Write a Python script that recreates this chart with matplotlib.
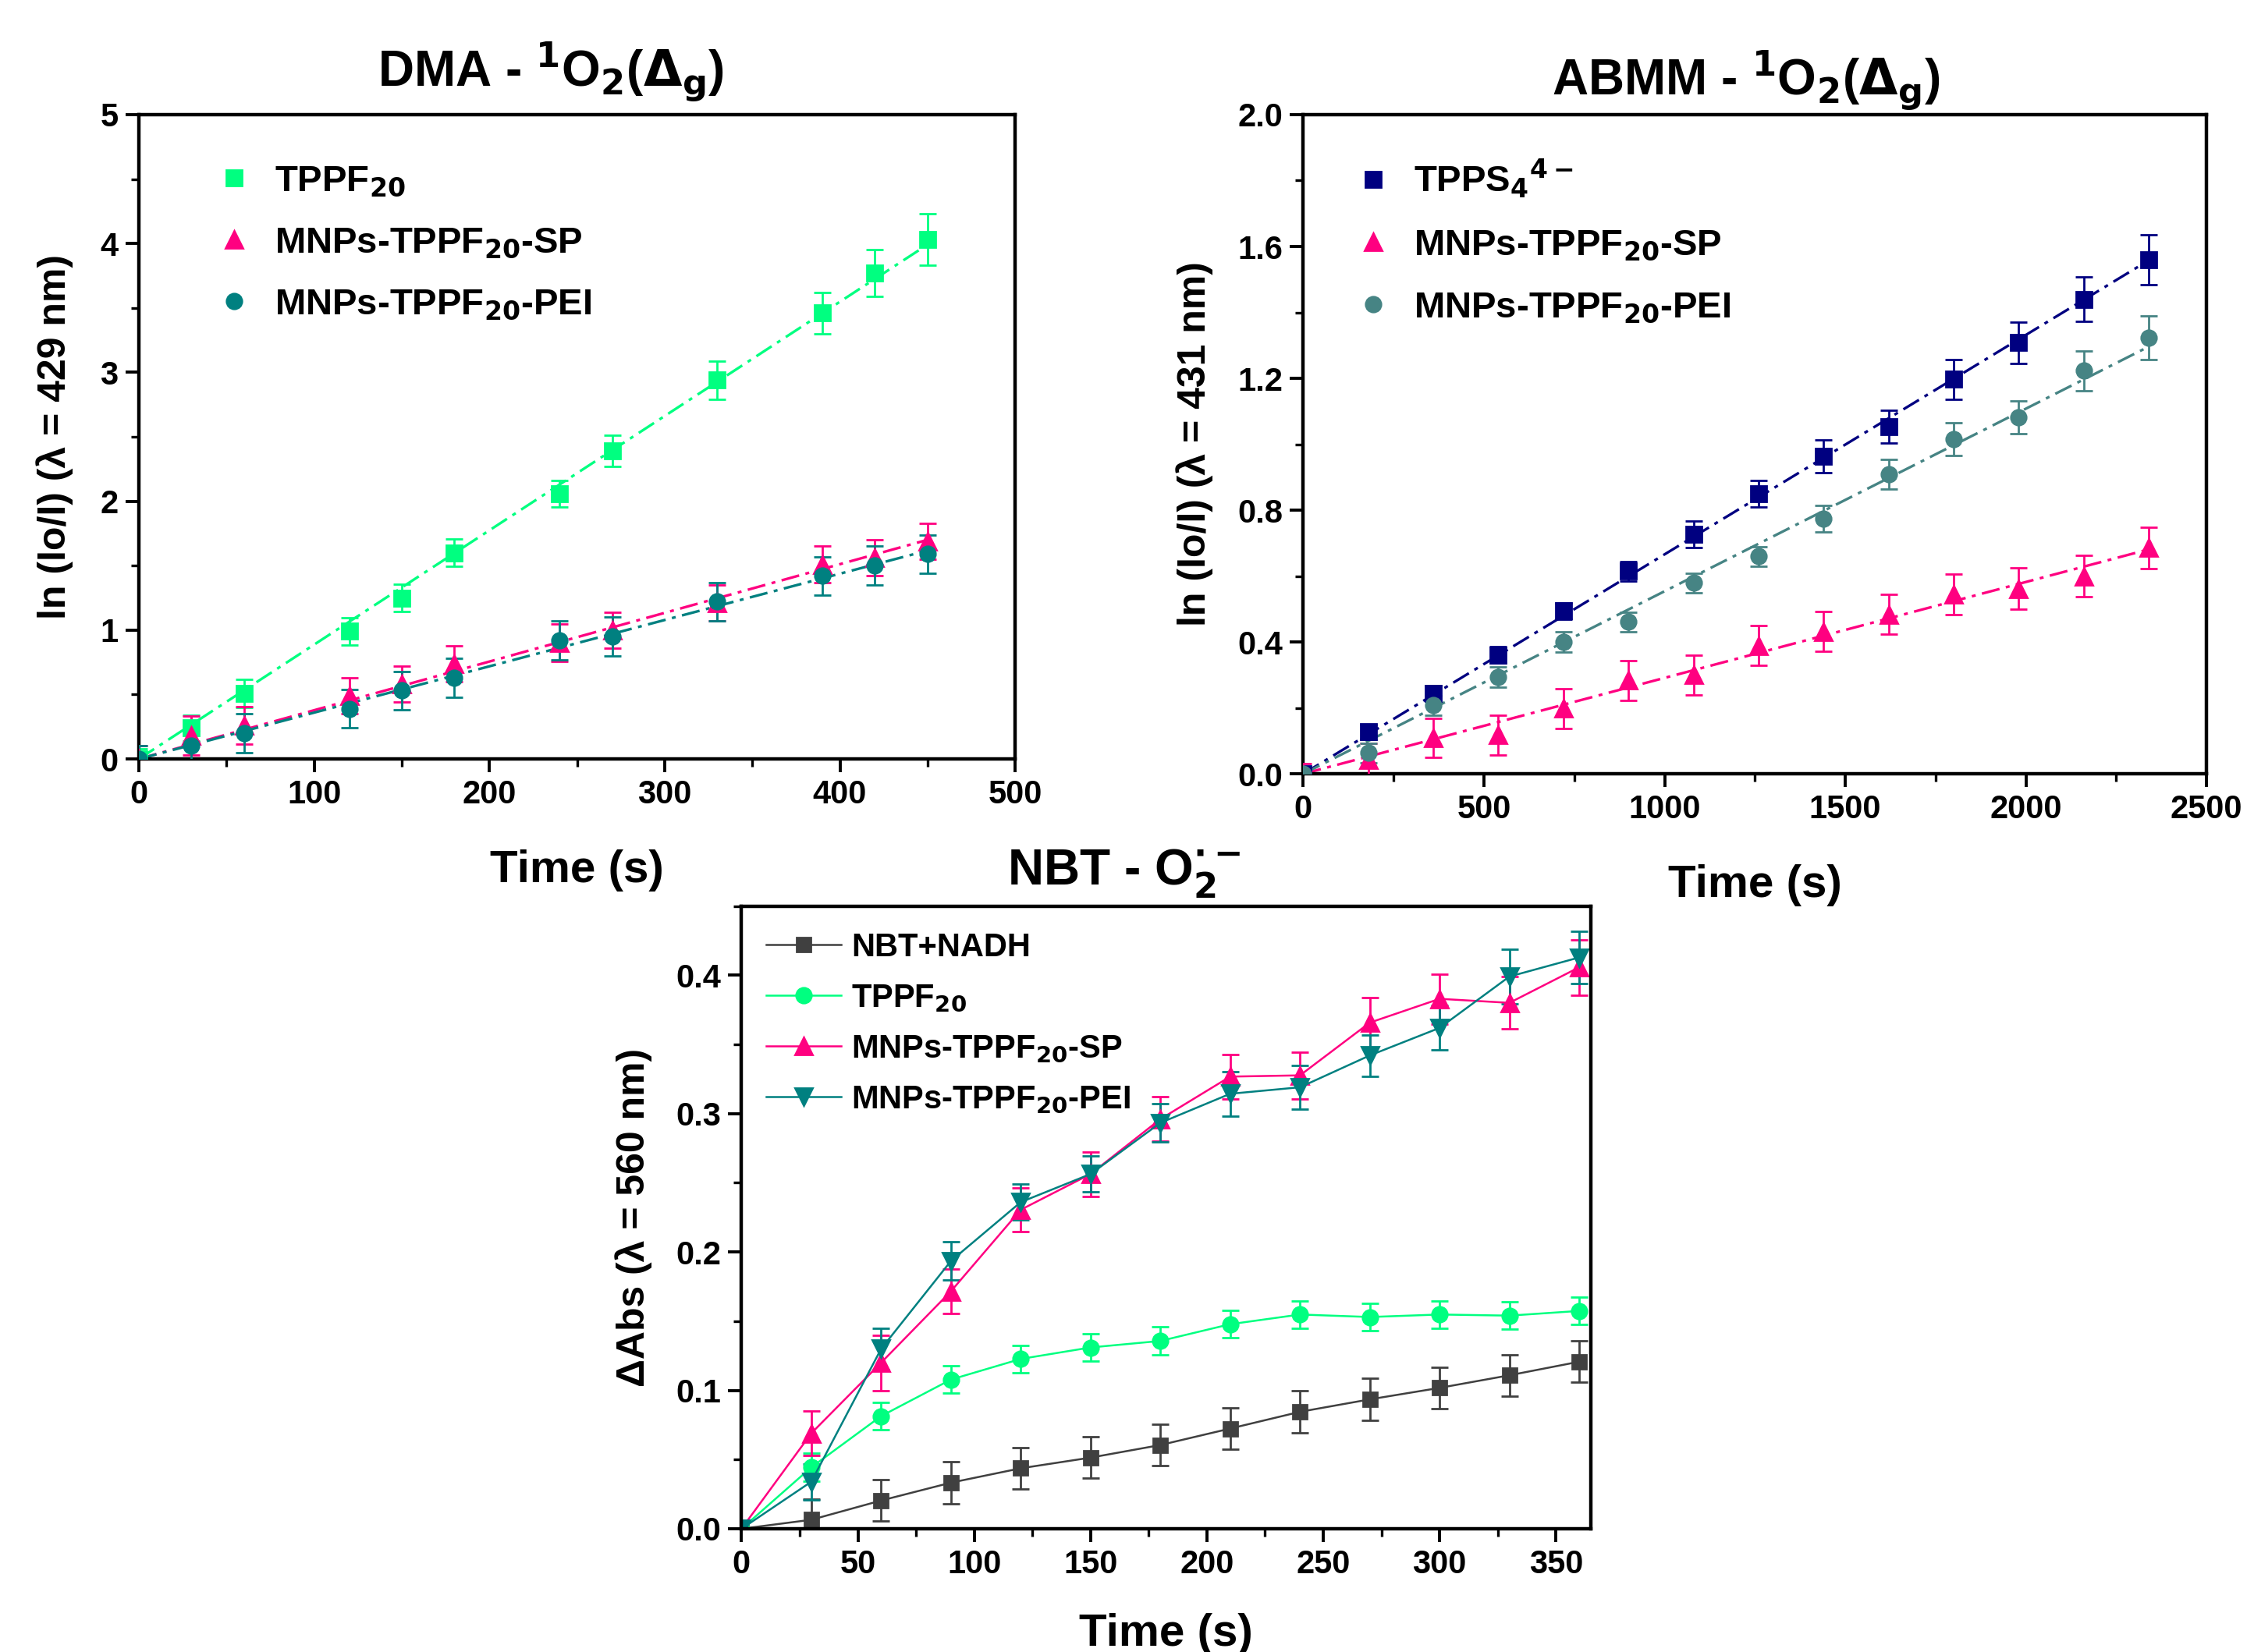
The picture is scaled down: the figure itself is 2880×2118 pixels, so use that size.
import numpy as np
import matplotlib
matplotlib.use("Agg")
import matplotlib.pyplot as plt
from matplotlib.lines import Line2D
from matplotlib.ticker import MultipleLocator, FormatStrFormatter

plt.rcParams['font.family'] = ['Liberation Sans Narrow', 'Liberation Sans', 'DejaVu Sans']
plt.rcParams['font.weight'] = 'bold'
plt.rcParams['mathtext.fontset'] = 'custom'
plt.rcParams['mathtext.rm'] = 'Liberation Sans Narrow:bold'
plt.rcParams['mathtext.it'] = 'Liberation Sans Narrow:bold'
plt.rcParams['mathtext.bf'] = 'Liberation Sans Narrow:bold'
plt.rcParams['mathtext.sf'] = 'Liberation Sans Narrow:bold'

# ---- DMA panel (top left) ----
dma_t = [0, 30, 60, 120, 150, 180, 240, 270, 330, 390, 420, 450]
dma_tppf = [0, 0.24, 0.51, 0.99, 1.25, 1.60, 2.06, 2.39, 2.94, 3.46, 3.77, 4.03]
dma_tppf_err = [0.08, 0.10, 0.11, 0.105, 0.105, 0.107, 0.104, 0.12, 0.15, 0.16, 0.18, 0.20]
dma_sp = [0, 0.18, 0.26, 0.49, 0.58, 0.74, 0.90, 1.00, 1.21, 1.51, 1.56, 1.69]
dma_sp_err = [0.1, 0.15, 0.145, 0.14, 0.14, 0.14, 0.145, 0.14, 0.14, 0.14, 0.14, 0.14]
dma_pei = [0, 0.10, 0.20, 0.39, 0.53, 0.63, 0.92, 0.95, 1.22, 1.42, 1.50, 1.59]
dma_pei_err = [0.1, 0.12, 0.15, 0.15, 0.15, 0.15, 0.15, 0.15, 0.15, 0.15, 0.15, 0.15]

# ---- ABMM panel (top right) ----
abmm_t = [0, 180, 360, 540, 720, 900, 1080, 1260, 1440, 1620, 1800, 1980, 2160, 2340]
abmm_tpps = [0, 0.127, 0.244, 0.361, 0.494, 0.615, 0.726, 0.850, 0.963, 1.053, 1.197, 1.308, 1.440, 1.560]
abmm_tpps_err = [0.01, 0.023, 0.023, 0.025, 0.025, 0.03, 0.04, 0.04, 0.05, 0.05, 0.06, 0.063, 0.068, 0.075]
abmm_sp = [0, 0.043, 0.110, 0.118, 0.198, 0.283, 0.300, 0.389, 0.432, 0.484, 0.544, 0.562, 0.600, 0.686]
abmm_sp_err = [0.03, 0.05, 0.059, 0.06, 0.06, 0.06, 0.06, 0.06, 0.06, 0.06, 0.062, 0.062, 0.062, 0.063]
abmm_pei = [0, 0.063, 0.208, 0.294, 0.400, 0.461, 0.579, 0.660, 0.775, 0.908, 1.015, 1.081, 1.223, 1.324]
abmm_pei_err = [0.01, 0.03, 0.03, 0.03, 0.03, 0.03, 0.03, 0.03, 0.04, 0.045, 0.05, 0.05, 0.06, 0.066]

# ---- NBT panel (bottom) ----
nbt_t = [0, 30, 60, 90, 120, 150, 180, 210, 240, 270, 300, 330, 360]
nbt_nadh = [0, 0.0065, 0.0204, 0.0333, 0.0437, 0.0514, 0.0605, 0.0724, 0.0845, 0.0935, 0.1018, 0.1109, 0.1207]
nbt_nadh_err = [0, 0.015, 0.015, 0.015, 0.015, 0.015, 0.015, 0.015, 0.015, 0.015, 0.015, 0.015, 0.015]
nbt_tppf = [0, 0.0444, 0.0814, 0.1078, 0.1227, 0.131, 0.1357, 0.1478, 0.1548, 0.153, 0.1548, 0.154, 0.1574]
nbt_tppf_err = [0, 0.01, 0.01, 0.01, 0.01, 0.01, 0.01, 0.01, 0.01, 0.01, 0.01, 0.01, 0.01]
nbt_sp = [0, 0.069, 0.120, 0.1716, 0.2305, 0.2563, 0.296, 0.3267, 0.3276, 0.3657, 0.3829, 0.380, 0.4057]
nbt_sp_err = [0, 0.016, 0.02, 0.016, 0.016, 0.016, 0.016, 0.016, 0.017, 0.018, 0.018, 0.019, 0.02]
nbt_pei = [0, 0.034, 0.130, 0.1935, 0.236, 0.2563, 0.2933, 0.3143, 0.319, 0.342, 0.3619, 0.399, 0.4128]
nbt_pei_err = [0, 0.013, 0.015, 0.014, 0.013, 0.013, 0.014, 0.016, 0.016, 0.015, 0.016, 0.02, 0.019]

GREEN = '#00FF80'
PINK = '#FF0080'
TEAL = '#008080'
NAVY = '#000080'
GREYTEAL = '#468484'
DARK = '#404040'
DASHDOT = (0, (7, 2.5, 1.5, 2.5))

TICK_FS = 15
LABEL_FS = 21
YLABEL_FS = 18
TITLE_FS = 23


def style_axes(ax):
    for sp in ax.spines.values():
        sp.set_linewidth(1.6)
    ax.tick_params(which='major', direction='out', length=6, width=1.4,
                   labelsize=TICK_FS, top=False, right=False)
    ax.tick_params(which='minor', direction='out', length=3.5, width=1.2,
                   top=False, right=False)


def fit_series(ax, x, y, err, color, marker, label, ms=7):
    x = np.asarray(x, float)
    y = np.asarray(y, float)
    ax.errorbar(x, y, yerr=err, fmt=marker, color=color, ms=ms, mec=color,
                ecolor=color, elinewidth=1.0, capsize=4, capthick=1.0, zorder=3)
    # linear fit through the origin
    k = np.sum(x * y) / np.sum(x * x)
    xf = np.array([0, x.max()])
    ax.plot(xf, k * xf, color=color, lw=1.2, ls=DASHDOT, zorder=2)
    return Line2D([], [], ls='none', marker=marker, color=color, ms=ms, label=label)


fig = plt.figure(figsize=(14.4, 10.59), dpi=200)

# ---------------- top left ----------------
ax1 = fig.add_axes([0.0618, 0.5406, 0.390, 0.390])
h1 = [
    fit_series(ax1, dma_t, dma_tppf, dma_tppf_err, GREEN, 's', 'TPPF$_{20}$'),
    fit_series(ax1, dma_t, dma_sp, dma_sp_err, PINK, '^', 'MNPs-TPPF$_{20}$-SP', ms=8),
    fit_series(ax1, dma_t, dma_pei, dma_pei_err, TEAL, 'o', 'MNPs-TPPF$_{20}$-PEI'),
]
ax1.set_xlim(0, 500)
ax1.set_ylim(0, 5)
ax1.xaxis.set_major_locator(MultipleLocator(100))
ax1.xaxis.set_minor_locator(MultipleLocator(50))
ax1.yaxis.set_major_locator(MultipleLocator(1))
ax1.yaxis.set_minor_locator(MultipleLocator(0.5))
style_axes(ax1)
ax1.set_xlabel('Time (s)', fontsize=LABEL_FS, fontweight='bold')
ax1.set_ylabel('ln (Io/I) (λ = 429 nm)', fontsize=YLABEL_FS, fontweight='bold',
               family=['Liberation Sans', 'DejaVu Sans'])
ax1.xaxis.set_label_coords(0.5, -0.14)
ax1.yaxis.set_label_coords(-0.075, 0.5)
ax1.text(0.47, 1.018, r'DMA - $^{1}$O$_{2}$($\Delta_{g}$)', transform=ax1.transAxes,
         ha='center', va='bottom', fontsize=TITLE_FS, fontweight='bold')
ax1.legend(handles=h1, loc='upper left', bbox_to_anchor=(0.05, 0.975), frameon=False,
           fontsize=17, handletextpad=0.6, labelspacing=0.75, handlelength=1.0)

# ---------------- top right ----------------
ax2 = fig.add_axes([0.580, 0.5316, 0.402, 0.399])
h2 = [
    fit_series(ax2, abmm_t, abmm_tpps, abmm_tpps_err, NAVY, 's', 'TPPS$_{4}$$^{4-}$'),
    fit_series(ax2, abmm_t, abmm_sp, abmm_sp_err, PINK, '^', 'MNPs-TPPF$_{20}$-SP', ms=8),
    fit_series(ax2, abmm_t, abmm_pei, abmm_pei_err, GREYTEAL, 'o', 'MNPs-TPPF$_{20}$-PEI'),
]
ax2.set_xlim(0, 2500)
ax2.set_ylim(0, 2.0)
ax2.xaxis.set_major_locator(MultipleLocator(500))
ax2.xaxis.set_minor_locator(MultipleLocator(250))
ax2.yaxis.set_major_locator(MultipleLocator(0.4))
ax2.yaxis.set_minor_locator(MultipleLocator(0.2))
ax2.yaxis.set_major_formatter(FormatStrFormatter('%.1f'))
style_axes(ax2)
ax2.set_xlabel('Time (s)', fontsize=LABEL_FS, fontweight='bold')
ax2.set_ylabel('ln (Io/I) (λ = 431 nm)', fontsize=YLABEL_FS, fontweight='bold',
               family=['Liberation Sans', 'DejaVu Sans'])
ax2.xaxis.set_label_coords(0.5, -0.137)
ax2.yaxis.set_label_coords(-0.10, 0.5)
ax2.text(0.49, 1.005, r'ABMM - $^{1}$O$_{2}$($\Delta_{g}$)', transform=ax2.transAxes,
         ha='center', va='bottom', fontsize=TITLE_FS, fontweight='bold')
ax2.legend(handles=h2, loc='upper left', bbox_to_anchor=(0.02, 0.985), frameon=False,
           fontsize=17, handletextpad=0.6, labelspacing=0.75, handlelength=1.0)

# ---------------- bottom ----------------
ax3 = fig.add_axes([0.330, 0.0746, 0.378, 0.377])
series = [
    (nbt_nadh, nbt_nadh_err, DARK, 's', 'NBT+NADH', 6.5),
    (nbt_tppf, nbt_tppf_err, GREEN, 'o', 'TPPF$_{20}$', 7),
    (nbt_sp, nbt_sp_err, PINK, '^', 'MNPs-TPPF$_{20}$-SP', 8),
    (nbt_pei, nbt_pei_err, TEAL, 'v', 'MNPs-TPPF$_{20}$-PEI', 8),
]
h3 = []
for y, e, c, m, lab, ms in series:
    ax3.errorbar(nbt_t, y, yerr=e, fmt='-' + m, color=c, lw=0.9, ms=ms, mec=c,
                 ecolor=c, elinewidth=1.0, capsize=4, capthick=1.0)
    h3.append(Line2D([], [], ls='-', lw=0.9, marker=m, color=c, ms=ms, label=lab))
ax3.set_xlim(0, 365)
ax3.set_ylim(0, 0.45)
ax3.xaxis.set_major_locator(MultipleLocator(50))
ax3.xaxis.set_minor_locator(MultipleLocator(25))
ax3.yaxis.set_major_locator(MultipleLocator(0.1))
ax3.yaxis.set_minor_locator(MultipleLocator(0.05))
ax3.yaxis.set_major_formatter(FormatStrFormatter('%.1f'))
style_axes(ax3)
ax3.set_xlabel('Time (s)', fontsize=LABEL_FS, fontweight='bold')
ax3.set_ylabel('ΔAbs (λ = 560 nm)', fontsize=YLABEL_FS, fontweight='bold',
               family=['Liberation Sans', 'DejaVu Sans'])
ax3.xaxis.set_label_coords(0.5, -0.135)
ax3.yaxis.set_label_coords(-0.105, 0.5)
ax3.text(0.45, 1.01, r'NBT - O$_{2}^{\cdot -}$', transform=ax3.transAxes,
         ha='center', va='bottom', fontsize=TITLE_FS, fontweight='bold')
ax3.legend(handles=h3, loc='upper left', bbox_to_anchor=(-0.005, 1.005), frameon=False,
           fontsize=15, handletextpad=0.3, labelspacing=0.6, handlelength=2.3)

fig.savefig('out.png', dpi=200)
